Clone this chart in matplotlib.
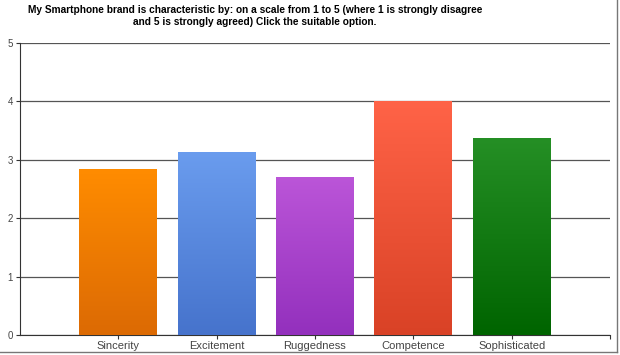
import matplotlib.pyplot as plt
import numpy as np
from matplotlib.colors import LinearSegmentedColormap
from matplotlib.lines import Line2D

plt.rcParams['font.family'] = ['Liberation Sans', 'DejaVu Sans']

categories = ['Sincerity', 'Excitement', 'Ruggedness', 'Competence', 'Sophisticated']
values = [2.84, 3.12, 2.69, 4.0, 3.36]
top_colors = ['#ff8c00', '#6a9cee', '#bb55d8', '#ff6347', '#258f25']
bottom_colors = ['#dc6a04', '#4673cc', '#9330bd', '#d94226', '#006400']
title = ('My Smartphone brand is characteristic by: on a scale from 1 to 5 (where 1 is strongly disagree\n'
         'and 5 is strongly agreed) Click the suitable option.')

fig = plt.figure(figsize=(6.2, 3.55), dpi=100)
ax = fig.add_axes([20 / 620, 20 / 355, 590 / 620, 292 / 355])

x = np.arange(len(categories))
width = 0.79
bars = ax.bar(x, values, width=width, color='none', zorder=3)

grad = np.linspace(0, 1, 256).reshape(-1, 1)
for bar, c0, c1 in zip(bars, top_colors, bottom_colors):
    cmap = LinearSegmentedColormap.from_list('g', [c1, c0])
    x0, y0 = bar.get_x(), bar.get_y()
    w, h = bar.get_width(), bar.get_height()
    ax.imshow(grad, cmap=cmap, aspect='auto', origin='lower',
              extent=[x0, x0 + w, y0, y0 + h], zorder=3)

ax.set_xlim(-1, 5)
ax.set_ylim(0, 5)
ax.set_yticks(range(6))
ax.set_xticks(list(x) + [5])
ax.set_xticklabels(categories + [''])
ax.yaxis.grid(True, color='#555555', linewidth=0.9, zorder=1)
ax.set_axisbelow(True)
for s in ['top', 'right']:
    ax.spines[s].set_visible(False)
ax.spines['left'].set_color('#333333')
ax.spines['bottom'].set_color('#333333')
ax.tick_params(axis='both', labelsize=7, colors='#333333', labelcolor='#444444', length=3, width=0.8)
ax.tick_params(axis='x', labelsize=8, pad=1)
ax.tick_params(axis='y', pad=2)

fig.text(255 / 620, 1 - 16 / 355, title, ha='center', va='center', fontsize=7.3,
         fontweight='bold', linespacing=1.2)

# outer frame (bottom and right)
fig.add_artist(Line2D([0, 617 / 620], [3 / 355, 3 / 355], color='#777777', linewidth=1))
fig.add_artist(Line2D([617 / 620, 617 / 620], [3 / 355, 1], color='#777777', linewidth=1))

fig.savefig('out.png', dpi=100)
